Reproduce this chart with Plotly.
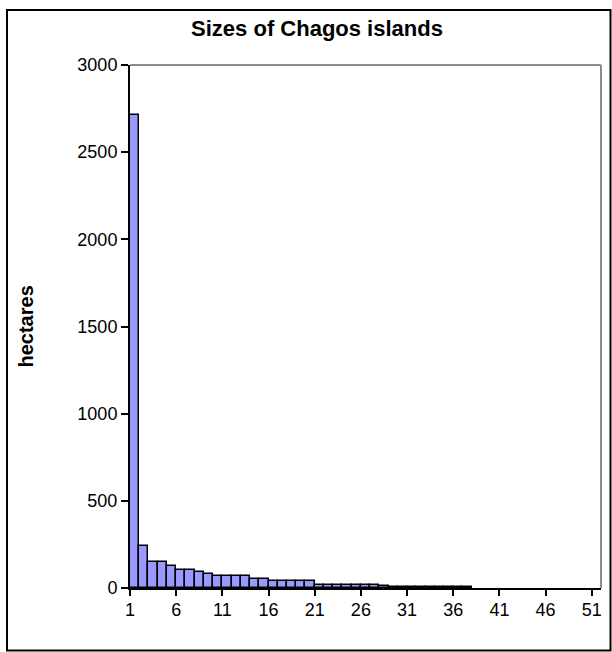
import plotly.graph_objects as go

# Island areas (hectares), ranked from largest to smallest
island_rank = list(range(1, 38))
hectares = [
    2715, 243, 148, 148, 124, 101, 101, 89, 79, 66,
    67, 67, 67, 53, 53, 41, 41, 41, 41, 41,
    18, 17, 17, 16, 16, 15, 15, 14,
    7, 7, 6, 6, 6, 5, 5, 5, 4,
]
x_tick_values = [1, 6, 11, 16, 21, 26, 31, 36, 41, 46, 51]
y_tick_values = [0, 500, 1000, 1500, 2000, 2500, 3000]

W, H = 612, 652
ML, MR, MT, MB = 130, 11, 65, 64
PW, PH = W - ML - MR, H - MT - MB

FONT = "Liberation Sans, Arial, sans-serif"

fig = go.Figure(
    go.Bar(
        x=island_rank,
        y=hectares,
        offset=0,
        width=1,
        marker=dict(color="#9999FF", line=dict(color="black", width=1.5)),
        hoverinfo="x+y",
    )
)


def px_x(p):
    return (p - ML) / PW


def px_y(p):
    return (H - MB - p) / PH


fig.update_layout(
    width=W,
    height=H,
    margin=dict(l=ML, r=MR, t=MT, b=MB),
    paper_bgcolor="white",
    plot_bgcolor="white",
    showlegend=False,
    bargap=0,
    title=dict(
        text="<b>Sizes of Chagos islands</b>",
        font=dict(family=FONT, size=22, color="black"),
        x=317 / W,
        xanchor="center",
        y=1 - 28.5 / H,
        yanchor="middle",
        xref="container",
        yref="container",
    ),
    xaxis=dict(
        range=[1, 52],
        tickmode="array",
        tickvals=x_tick_values,
        ticks="outside",
        ticklen=6,
        tickwidth=2,
        tickcolor="black",
        showline=True,
        linecolor="black",
        linewidth=2,
        showgrid=False,
        zeroline=False,
        ticklabelstandoff=-2,
        tickfont=dict(family=FONT, size=18, color="black"),
    ),
    yaxis=dict(
        range=[0, 3000],
        tickmode="array",
        tickvals=y_tick_values,
        ticks="outside",
        ticklen=7,
        tickwidth=2,
        tickcolor="black",
        showline=True,
        linecolor="black",
        linewidth=2,
        showgrid=False,
        zeroline=False,
        tickfont=dict(family=FONT, size=18, color="black"),
    ),
    annotations=[
        dict(
            text="<b>hectares</b>",
            textangle=-90,
            xref="paper",
            yref="paper",
            x=px_x(25.5),
            y=px_y(327),
            xanchor="center",
            yanchor="middle",
            showarrow=False,
            font=dict(family=FONT, size=20, color="black"),
        )
    ],
    shapes=[
        # grey plot-area frame on top and right
        dict(type="line", xref="paper", yref="paper", x0=0, x1=1, y0=1, y1=1,
             line=dict(color="#8c8c8c", width=2)),
        dict(type="line", xref="paper", yref="paper", x0=1, x1=1, y0=0, y1=1,
             line=dict(color="#8c8c8c", width=2)),
        # outer chart border
        dict(type="rect", xref="paper", yref="paper",
             x0=px_x(7), x1=px_x(610.5), y0=px_y(650.5), y1=px_y(10),
             line=dict(color="black", width=2), layer="below"),
    ],
)

fig.write_html("out.html")
